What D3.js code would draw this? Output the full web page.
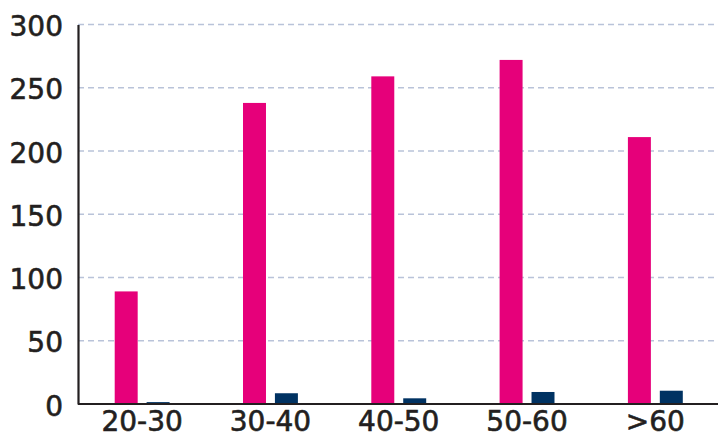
<!DOCTYPE html>
<html>
<head>
<meta charset="utf-8">
<script src="https://cdn.jsdelivr.net/npm/d3@7"></script>
<style>
  body { margin: 0; background: #fff; }
  svg { display: block; }
</style>
</head>
<body>
<svg id="chart"></svg>
<script>
// age groups and the two series
var categories = ["20-30", "30-40", "40-50", "50-60", ">60"]
var series = ["a", "b"]
var valuesA = [89, 238, 259, 272, 211]
var valuesB = [1.5, 8.5, 4.5, 9.5, 10.5]
var yTicks = [0, 50, 100, 150, 200, 250, 300]

var colors = { a: "#e6007a", b: "#003262" }

var margin = {top: 24.5, right: 0, bottom: 30, left: 78}
  , width = 718 - margin.left - margin.right
  , height = 434 - margin.top - margin.bottom

var data = categories.map(function (c, i) {
    return { cat: c, a: valuesA[i], b: valuesB[i] }
})

var svg = d3.select("#chart")
    .attr("width", 718)
    .attr("height", 434)

var g = svg.append("g").attr("transform", "translate(" + margin.left + "," + margin.top + ")")

var x0 = d3.scaleBand()
    .domain(categories)
    .range([0, 641.5])
    .padding(0)

var x1 = d3.scaleBand()
    .domain(series)
    .range([0, x0.bandwidth()])
    .paddingInner(0.28)
    .paddingOuter(1.15)

var y = d3.scaleLinear()
    .domain([0, 300])
    .range([379.5, 0])

var font = "'DejaVu Sans', sans-serif"

// grid lines
g.selectAll(".grid")
    .data(yTicks.slice(1))
    .enter().append("line")
    .attr("x1", 0)
    .attr("x2", width)
    .attr("y1", function (d) { return y(d) })
    .attr("y2", function (d) { return y(d) })
    .attr("stroke", "#b9c3d9")
    .attr("stroke-width", 1.5)
    .attr("stroke-dasharray", "6,4")

// bars
var groups = g.selectAll(".grp")
    .data(data)
    .enter().append("g")
    .attr("transform", function (d) { return "translate(" + x0(d.cat) + ",0)" })

groups.selectAll("rect")
    .data(function (d) { return series.map(function (s) { return { key: s, value: d[s] } }) })
    .enter().append("rect")
    .attr("x", function (d) { return x1(d.key) })
    .attr("y", function (d) { return y(d.value) })
    .attr("width", x1.bandwidth())
    .attr("height", function (d) { return y(0) - y(d.value) })
    .attr("fill", function (d) { return colors[d.key] })

// y axis
var yAxis = g.append("g")
    .call(d3.axisLeft(y).tickValues(yTicks).tickSize(0).tickPadding(15))
yAxis.select(".domain").attr("stroke", "#231f20").attr("stroke-width", 2.2)
yAxis.selectAll("text")
    .attr("fill", "#231f20")
    .attr("stroke", "#231f20")
    .attr("stroke-width", 0.6)
    .style("font-family", font)
    .style("font-size", "28px")
    .attr("dy", "0.4em")

// x axis
var xAxis = g.append("g")
    .attr("transform", "translate(0," + y(0) + ")")
    .call(d3.axisBottom(x0).tickSize(0))
xAxis.select(".domain").attr("stroke", "#231f20").attr("stroke-width", 2.2)
    .attr("d", "M0,0H" + width)
xAxis.selectAll("text")
    .attr("y", 27)
    .attr("dy", 0)
    .attr("fill", "#231f20")
    .attr("stroke", "#231f20")
    .attr("stroke-width", 0.6)
    .style("font-family", font)
    .style("font-size", "28px")
</script>
</body>
</html>
